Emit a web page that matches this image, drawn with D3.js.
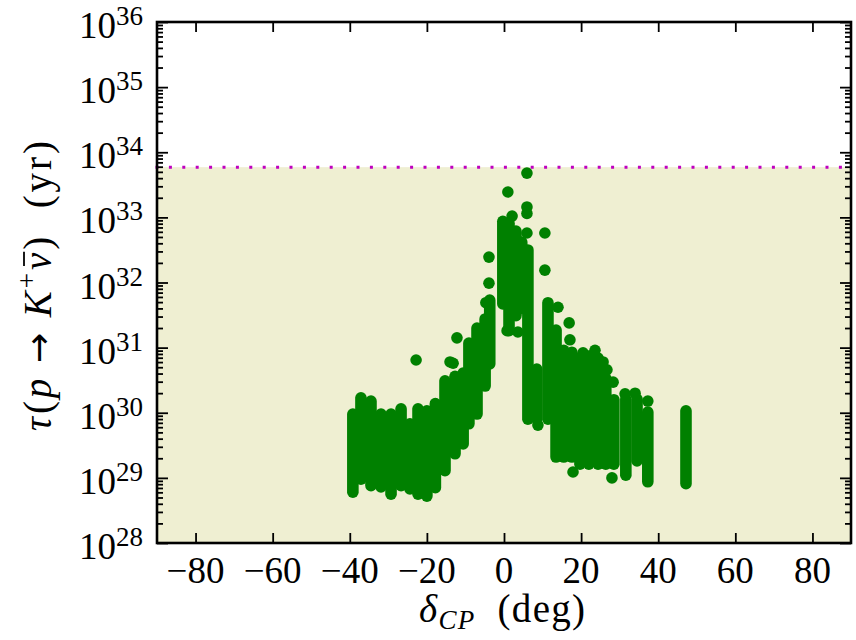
<!DOCTYPE html>
<html><head><meta charset="utf-8">
<script src="https://cdn.jsdelivr.net/npm/d3@7"></script>
<style>body{margin:0;background:#fff} svg{display:block}</style>
</head><body>
<svg id="chart" width="856" height="640"></svg>
<script>
// δ_CP (deg) of each dense column of points, and the log10(τ/yr) span it covers
const colDelta = [-39.2,-37.1,-34.5,-31.9,-29.3,-26.7,-24.4,-22.3,-20.0,-17.8,-15.3,-12.7,-10.6,-9.1,-7.0,-4.9,-3.7,-0.3,1.3,3.1,4.6,6.2,8.5,11.4,13.5,15.5,17.6,19.7,22.0,24.4,26.4,28.5,31.6,34.5,37.3,47.2];
const colLogTauLow = [28.78,28.98,28.88,28.86,28.75,28.88,28.83,28.75,28.72,28.85,29.11,29.37,29.52,29.83,29.98,30.41,30.75,31.67,31.26,31.49,31.60,29.90,29.90,29.90,29.32,29.32,29.32,29.21,29.21,29.21,29.21,29.21,29.04,29.26,28.94,28.91];
const colLogTauHigh = [29.98,30.23,30.18,29.98,29.98,30.06,29.83,30.06,30.03,30.14,30.49,30.56,30.61,31.07,31.30,31.44,31.73,32.94,32.91,32.79,32.62,32.50,30.67,31.69,31.27,30.96,30.93,30.84,30.87,30.84,30.53,30.20,30.21,30.21,30.01,30.03];
// isolated points
const dotDelta = [5.95,1.0,5.95,5.95,2.1,5.95,10.6,-3.9,10.6,-3.9,-4.7,-22.8,-12.2,-13.2,-14.0,14.0,16.9,17.1,20.5,23.6,25.7,26.7,28.3,31.4,34.0,37.3,0.8,3.6,17.9,28.0,8.8];
const dotLogTau = [33.68,33.39,33.16,33.06,33.02,32.76,32.76,32.39,32.19,31.99,31.69,30.81,31.15,30.76,30.78,31.62,31.38,31.12,30.92,30.96,30.78,30.66,30.47,30.29,30.30,30.18,31.26,31.24,29.09,29.00,29.81];
const xTickValues = [-80,-60,-40,-20,0,20,40,60,80];
const yTickExponents = [28,29,30,31,32,33,34,35,36];
const limitTau = 5.9e33;

const svg = d3.select("#chart");
const FONT = "'Liberation Serif','Times New Roman',serif";
const x = d3.scaleLinear().domain([-90, 90]).range([157, 851]);
const y = d3.scaleLog().domain([1e28, 1e36]).range([543, 22]);
const [x0, x1] = x.range();
const [yb, yt] = y.range();

// excluded region
svg.append("rect").attr("x", x0).attr("y", y(limitTau))
  .attr("width", x1 - x0).attr("height", yb - y(limitTau)).attr("fill", "#efefd2");

// limit line
svg.append("line").attr("x1", x0 - 1.5).attr("x2", x1).attr("y1", y(limitTau)).attr("y2", y(limitTau))
  .attr("stroke", "#bf00bf").attr("stroke-width", 3).attr("stroke-dasharray", "3 10.4");

// data
const green = "#008000", R = 5.8;
const cols = colDelta.map((d, i) => ({d, lo: Math.pow(10, colLogTauLow[i]), hi: Math.pow(10, colLogTauHigh[i])}));
svg.append("g").selectAll("line").data(cols).join("line")
  .attr("x1", c => x(c.d)).attr("x2", c => x(c.d))
  .attr("y1", c => y(c.lo)).attr("y2", c => y(c.hi))
  .attr("stroke", green).attr("stroke-width", 2 * R).attr("stroke-linecap", "round");
const dots = dotDelta.map((d, i) => ({d, t: Math.pow(10, dotLogTau[i])}));
svg.append("g").selectAll("circle").data(dots).join("circle")
  .attr("cx", p => x(p.d)).attr("cy", p => y(p.t)).attr("r", R).attr("fill", green);

// ticks (inward)
const majorY = yTickExponents.map(e => Math.pow(10, e));
const minorY = [];
yTickExponents.slice(0, -1).forEach(e => { for (let k = 2; k <= 9; k++) minorY.push(k * Math.pow(10, e)); });
function styleAxis(g) {
  g.select(".domain").remove();
  g.selectAll("text").remove();
  g.selectAll("line").attr("stroke", "#000").attr("stroke-width", 1.8);
}
svg.append("g").attr("transform", `translate(0,${yb})`).call(d3.axisBottom(x).tickValues(xTickValues).tickSize(-10)).call(styleAxis);
svg.append("g").attr("transform", `translate(0,${yt})`).call(d3.axisTop(x).tickValues(xTickValues).tickSize(-10)).call(styleAxis);
svg.append("g").attr("transform", `translate(${x0},0)`).call(d3.axisLeft(y).tickValues(majorY).tickSize(-11)).call(styleAxis);
svg.append("g").attr("transform", `translate(${x0},0)`).call(d3.axisLeft(y).tickValues(minorY).tickSize(-6)).call(styleAxis);
svg.append("g").attr("transform", `translate(${x1},0)`).call(d3.axisRight(y).tickValues(majorY).tickSize(-11)).call(styleAxis);
svg.append("g").attr("transform", `translate(${x1},0)`).call(d3.axisRight(y).tickValues(minorY).tickSize(-6)).call(styleAxis);

// spines
svg.append("rect").attr("x", x0).attr("y", yt).attr("width", x1 - x0).attr("height", yb - yt)
  .attr("fill", "none").attr("stroke", "#000").attr("stroke-width", 2.6);

// x tick labels
svg.append("g").selectAll("text").data(xTickValues).join("text")
  .attr("x", d => x(d)).attr("y", 583).attr("text-anchor", "middle")
  .attr("font-family", FONT).attr("font-size", 37).attr("fill", "#000")
  .text(d => d < 0 ? "\u2212" + (-d) : String(d));

// y tick labels 10^n
const yl = svg.append("g").selectAll("text").data(yTickExponents).join("text")
  .attr("x", 143).attr("y", e => y(Math.pow(10, e)) + 16).attr("text-anchor", "end")
  .attr("font-family", FONT).attr("font-size", 37).attr("fill", "#000");
yl.append("tspan").text("10");
yl.append("tspan").attr("font-size", 27).attr("dy", -13).text(e => String(e));

// axis titles
const xt = svg.append("text").attr("x", 502).attr("y", 622).attr("text-anchor", "middle")
  .attr("font-family", FONT).attr("font-size", 39).attr("fill", "#000")
  .attr("textLength", 166).attr("lengthAdjust", "spacing");
xt.append("tspan").attr("font-style", "italic").text("δ");
xt.append("tspan").attr("font-style", "italic").attr("font-size", 27).attr("dy", 7).text("CP");
xt.append("tspan").attr("dy", -7).text("\u00A0\u00A0(deg)");

const yg = svg.append("g").attr("transform", "translate(51,286) rotate(-90)");
const yt2 = yg.append("text").attr("x", 0).attr("y", 0).attr("text-anchor", "middle")
  .attr("font-family", FONT).attr("font-size", 39).attr("fill", "#000")
  .attr("textLength", 290).attr("lengthAdjust", "spacing");
yt2.append("tspan").attr("font-style", "italic").text("τ");
yt2.append("tspan").text("(");
yt2.append("tspan").attr("font-style", "italic").text("p");
yt2.append("tspan").text("\u00A0");
yt2.append("tspan").attr("font-family", "'DejaVu Sans'").attr("font-size", 36).text("\u2192");
yt2.append("tspan").text("\u00A0");
yt2.append("tspan").attr("font-style", "italic").text("K");
yt2.append("tspan").attr("font-size", 27).attr("dy", -15).text("+");
yt2.append("tspan").attr("font-style", "italic").attr("dy", 15).text("ν");
yt2.append("tspan").text(")\u00A0\u00A0(yr)");
// bar over ν
const node = yt2.node();
const nuIdx = node.textContent.indexOf("ν");
const ext = node.getExtentOfChar(nuIdx);
yg.append("line").attr("x1", ext.x + 4).attr("x2", ext.x + ext.width + 1)
  .attr("y1", -27).attr("y2", -27).attr("stroke", "#000").attr("stroke-width", 1.8);
</script>
</body></html>
